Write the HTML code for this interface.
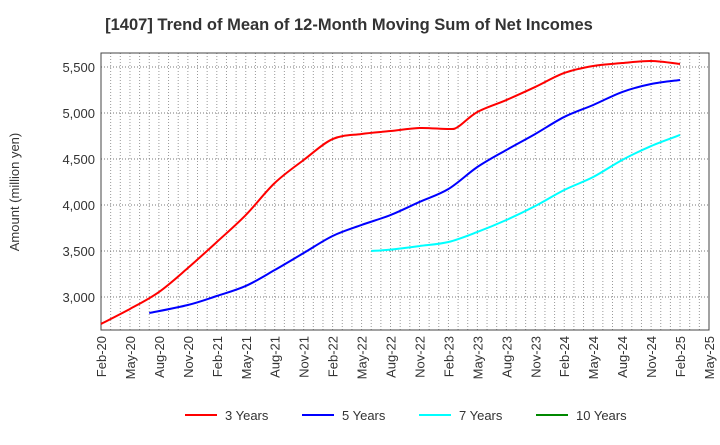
<!DOCTYPE html>
<html><head><meta charset="utf-8"><style>
body{margin:0;background:#fff;font-family:"Liberation Sans",Arial,sans-serif}
</style></head><body>
<svg id="c" width="720" height="440" xmlns="http://www.w3.org/2000/svg" font-family="Liberation Sans, Arial, sans-serif"></svg>
<script>
const xLabels=["Feb-20","May-20","Aug-20","Nov-20","Feb-21","May-21","Aug-21","Nov-21","Feb-22","May-22","Aug-22","Nov-22","Feb-23","May-23","Aug-23","Nov-23","Feb-24","May-24","Aug-24","Nov-24","Feb-25","May-25"];
const yTicks=[3000,3500,4000,4500,5000,5500];
const m3=[0,3,6,9,12,15,18,21,24,27,30,33,36,37,39,42,45,48,51,54,57,60];
const v3=[2707,2870,3054,3315,3598,3891,4239,4489,4717,4772,4804,4837,4826,4850,5011,5141,5283,5435,5511,5543,5565,5533];
const m5=[5,9,12,15,18,21,24,27,30,33,36,39,42,45,48,51,54,57,60];
const v5=[2826,2913,3011,3120,3293,3478,3663,3783,3891,4033,4174,4413,4598,4772,4957,5087,5228,5315,5359];
const m7=[28,30,33,36,39,42,45,48,51,54,57,60];
const v7=[3500,3515,3554,3598,3707,3837,3989,4163,4304,4489,4641,4761];
const m10=[];const v10=[];
const L=101,R=709,T=53,B=330;
const X=m=>L+m*(R-L)/63;
const Y=v=>297-(v-3000)*46/500;
const svg=document.getElementById('c');const NS='http://www.w3.org/2000/svg';
function el(t,a,txt){const e=document.createElementNS(NS,t);for(const k in a)e.setAttribute(k,a[k]);if(txt!==undefined)e.textContent=txt;svg.appendChild(e);return e;}
let t=el('text',{x:349,y:30,'text-anchor':'middle','font-size':16.5,'font-weight':'bold',fill:'#333'},'[1407]  Trend of Mean of 12-Month Moving Sum of Net Incomes');

for(let m=1;m<63;m++){const g=el('line',{x1:X(m),x2:X(m),y1:T,y2:B,stroke:'#999','stroke-dasharray':'1,2','stroke-width':1});}
yTicks.forEach(v=>{const g=el('line',{x1:L,x2:R,y1:Y(v),y2:Y(v),stroke:'#777','stroke-dasharray':'1,2'});
const l=el('text',{x:L-6,y:Y(v)+5,'text-anchor':'end','font-size':13,fill:'#333'},v.toLocaleString('en-US'));});
xLabels.forEach((s,i)=>{const x=X(i*3);const l=el('text',{x:x+5,y:B+6,'text-anchor':'end','font-size':13,fill:'#333',transform:`rotate(-90 ${x+5} ${B+6})`},s);});
const f=el('rect',{x:L,y:T,width:R-L,height:B-T,fill:'none',stroke:'#444'});
const ya=el('text',{x:19,y:192,'text-anchor':'middle','font-size':13,fill:'#333',transform:'rotate(-90 19 192)'},'Amount (million yen)');
function path(ms,vs){const p=ms.map((m,i)=>[X(m),Y(vs[i])]);if(!p.length)return '';let d=`M${p[0][0]},${p[0][1]}`;
for(let i=0;i<p.length-1;i++){const p0=p[i-1]||p[i],p1=p[i],p2=p[i+1],p3=p[i+2]||p2;
d+=` C${p1[0]+(p2[0]-p0[0])/6},${p1[1]+(p2[1]-p0[1])/6} ${p2[0]-(p3[0]-p1[0])/6},${p2[1]-(p3[1]-p1[1])/6} ${p2[0]},${p2[1]}`;}return d;}
[[m3,v3,'#f00','series-3-years'],[m5,v5,'#00f','series-5-years'],[m7,v7,'#0ff','series-7-years'],[m10,v10,'#080','series-10-years']].forEach(s=>{const d=path(s[0],s[1]);if(!d)return;const p=el('path',{d,fill:'none',stroke:s[2],'stroke-width':2});});
const leg=[['3 Years','#f00',185],['5 Years','#00f',302],['7 Years','#0ff',419],['10 Years','#080',536]];
leg.forEach(l=>{const ln=el('line',{x1:l[2],x2:l[2]+32,y1:415,y2:415,stroke:l[1],'stroke-width':2});
const tx=el('text',{x:l[2]+40,y:420,'font-size':13,fill:'#333'},l[0]);});
</script>
</body></html>
